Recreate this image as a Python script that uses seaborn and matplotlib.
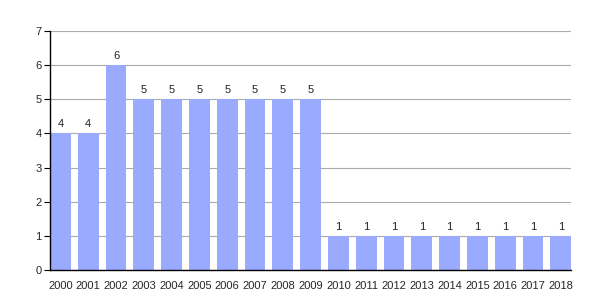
import matplotlib
matplotlib.use("Agg")
import matplotlib.pyplot as plt
import seaborn as sns
import pandas as pd

years = [str(y) for y in range(2000, 2019)]
values = [4, 4, 6, 5, 5, 5, 5, 5, 5, 5, 1, 1, 1, 1, 1, 1, 1, 1, 1]

sns.set_theme(style="white")
plt.rcParams['font.family'] = ['Liberation Sans', 'DejaVu Sans']

df = pd.DataFrame({"year": years, "value": values})
fig = plt.figure(figsize=(6, 3), dpi=100)
ax = fig.add_axes([0.0833, 0.1, 0.8687, 0.797])
sns.barplot(data=df, x="year", y="value", color="#99aaff", saturation=1, width=0.75,
            linewidth=0, ax=ax, zorder=2)
ax.set_xlim(-0.375, len(years) - 0.625)
ax.set_ylim(0, 7)
ax.set_yticks(range(8))
ax.yaxis.grid(True, color="#aaaaaa", linewidth=0.8, zorder=0)
ax.set_axisbelow(True)
for s in ["top", "right"]:
    ax.spines[s].set_visible(False)
for s in ["left", "bottom"]:
    ax.spines[s].set_color("black")
    ax.spines[s].set_linewidth(1.0)
ax.tick_params(axis="y", left=True, length=4, width=0.8, color="black", labelsize=8, pad=2)
ax.tick_params(axis="x", bottom=False, labelsize=8, pad=2)
ax.set_xlabel("")
ax.set_ylabel("")
for i, v in enumerate(values):
    ax.text(i, v + 0.12, str(v), ha="center", va="bottom", fontsize=8, color="#222222")
fig.savefig("out.png", dpi=100)
